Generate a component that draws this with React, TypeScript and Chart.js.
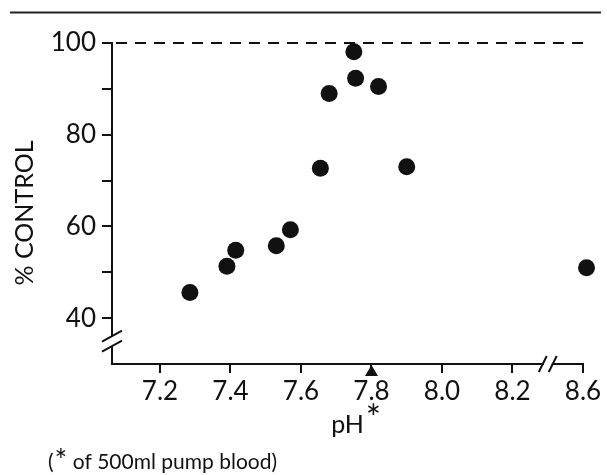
import React, { useEffect, useRef } from 'react';
import { Chart, registerables, LinearScale } from 'chart.js';

// ---- data ----
const PH_VALUES = [7.285, 7.39, 7.415, 7.53, 7.57, 7.655, 7.68, 7.75, 7.755, 7.82, 7.9, 8.61];
const PCT_CONTROL = [45.6, 51.3, 54.8, 55.8, 59.3, 72.7, 89.0, 98.1, 92.3, 90.5, 73.0, 51.0];
const X_TICKS = [7.2, 7.4, 7.6, 7.8, 8.0, 8.2, 8.6];
const Y_TICKS = [40, 50, 60, 70, 80, 90, 100];
const Y_LABELED = [40, 60, 80, 100];
const MARKER_PH = [7.8];
const CONTROL_LEVEL = 100;
const X_BREAK = 8.3;
const X_GAP = 0.2;
const Y_BREAK = 35;
const X_TITLE = 'pH';
const MARK = '*';
const Y_TITLE = '% CONTROL';
const FOOTNOTE_OPEN = '(';
const FOOTNOTE = ' of 500ml pump blood)';

const FONT = 'Lato, "DejaVu Sans", sans-serif';
const INK = '#111';

class BrokenLinearScale extends LinearScale {
  static id = 'brokenLinear';
  static defaults = LinearScale.defaults;
  getPixelForValue(value: number) {
    const v = value > X_BREAK ? value - X_GAP : value;
    return super.getPixelForValue(v);
  }
}

Chart.register(...registerables, BrokenLinearScale as any);

const decorPlugin = {
  id: 'decor',
  beforeDatasetsDraw(chart: any) {
    const { ctx, chartArea, scales } = chart;
    const y = scales.y.getPixelForValue(CONTROL_LEVEL);
    ctx.save();
    ctx.strokeStyle = INK;
    ctx.lineWidth = 2;
    ctx.setLineDash([11, 8]);
    ctx.beginPath();
    ctx.moveTo(chartArea.left + 4, y);
    ctx.lineTo(chartArea.right, y);
    ctx.stroke();
    ctx.restore();
  },
  afterDraw(chart: any) {
    const { ctx, chartArea, scales } = chart;
    const xs = scales.x;
    const ys = scales.y;
    ctx.save();
    // top rule
    ctx.strokeStyle = '#222';
    ctx.lineWidth = 2;
    ctx.beginPath();
    ctx.moveTo(10, 12.5);
    ctx.lineTo(601, 12.5);
    ctx.stroke();

    // y-axis break
    const ax = chartArea.left;
    const by = ys.getPixelForValue(Y_BREAK);
    ctx.fillStyle = '#fff';
    ctx.fillRect(ax - 3, by - 5, 6, 10);
    ctx.strokeStyle = INK;
    ctx.lineWidth = 2;
    ctx.beginPath();
    ctx.moveTo(ax - 10, by + 0.5);
    ctx.lineTo(ax + 10, by - 10.5);
    ctx.moveTo(ax - 10, by + 10.5);
    ctx.lineTo(ax + 10, by - 0.5);
    ctx.stroke();

    // x-axis break
    const bx = xs.getPixelForValue(X_BREAK);
    const ay = chartArea.bottom;
    ctx.fillStyle = '#fff';
    ctx.fillRect(bx - 4, ay - 3, 8, 6);
    ctx.beginPath();
    ctx.moveTo(bx - 9, ay + 8);
    ctx.lineTo(bx - 1, ay - 8);
    ctx.moveTo(bx + 1, ay + 8);
    ctx.lineTo(bx + 9, ay - 8);
    ctx.stroke();

    // triangle marker(s) under the axis
    ctx.fillStyle = INK;
    MARKER_PH.forEach((v) => {
      const mx = xs.getPixelForValue(v);
      ctx.beginPath();
      ctx.moveTo(mx, ay + 1);
      ctx.lineTo(mx + 6.5, ay + 12);
      ctx.lineTo(mx - 6.5, ay + 12);
      ctx.closePath();
      ctx.fill();
    });

    ctx.fillStyle = INK;
    ctx.textBaseline = 'alphabetic';

    // y title
    ctx.save();
    ctx.translate(33, 213);
    ctx.rotate(-Math.PI / 2);
    ctx.font = `25px ${FONT}`;
    ctx.textAlign = 'center';
    ctx.fillText(Y_TITLE, 0, 0);
    ctx.restore();

    // x title with raised mark
    const cx = (chartArea.left + chartArea.right) / 2;
    ctx.font = `25px ${FONT}`;
    ctx.textAlign = 'center';
    ctx.fillText(X_TITLE, cx, 433);
    const w = ctx.measureText(X_TITLE).width;
    ctx.font = `36px ${FONT}`;
    ctx.textAlign = 'left';
    ctx.fillText(MARK, cx + w / 2 + 2, 431);

    // footnote
    let fx = 48;
    ctx.font = `21px ${FONT}`;
    ctx.fillText(FOOTNOTE_OPEN, fx, 469);
    fx += ctx.measureText(FOOTNOTE_OPEN).width + 1;
    ctx.font = `30px ${FONT}`;
    ctx.fillText(MARK, fx, 471);
    fx += ctx.measureText(MARK).width;
    ctx.font = `21px ${FONT}`;
    ctx.fillText(FOOTNOTE, fx, 469);
    ctx.restore();
  },
};

export default function App() {
  const ref = useRef<HTMLCanvasElement>(null);
  useEffect(() => {
    if (!ref.current) return;
    const tickFont = { family: FONT, size: 26 };
    const chart = new Chart(ref.current, {
      type: 'scatter',
      data: {
        datasets: [
          {
            data: PH_VALUES.map((x, i) => ({ x, y: PCT_CONTROL[i] })),
            backgroundColor: INK,
            borderWidth: 0,
            pointRadius: 8.5,
            pointHoverRadius: 8.5,
            clip: false as any,
          },
        ],
      },
      options: {
        animation: false,
        responsive: true,
        maintainAspectRatio: false,
        events: [],
        layout: { padding: { left: 0, right: 24, top: 43, bottom: 31 } },
        plugins: { legend: { display: false }, tooltip: { enabled: false } },
        scales: {
          x: {
            type: 'brokenLinear' as any,
            min: 7.064,
            max: 8.4,
            afterBuildTicks: (s: any) => {
              s.ticks = X_TICKS.map((value) => ({ value }));
            },
            afterFit: (s: any) => {
              s.height = 80;
            },
            grid: { drawOnChartArea: false, tickLength: 9, color: INK, lineWidth: 2 },
            border: { display: true, color: INK, width: 2 },
            ticks: {
              color: INK,
              font: tickFont,
              padding: 3,
              maxRotation: 0,
              autoSkip: false,
              callback: (v: any) => Number(v).toFixed(1),
            },
            title: { display: false },
          },
          y: {
            min: 30,
            max: 100,
            afterBuildTicks: (s: any) => {
              s.ticks = Y_TICKS.map((value) => ({ value }));
            },
            afterFit: (s: any) => {
              s.width = 112;
            },
            grid: { drawOnChartArea: false, tickLength: 10, color: INK, lineWidth: 2 },
            border: { display: true, color: INK, width: 2 },
            ticks: {
              color: INK,
              font: tickFont,
              padding: 6,
              autoSkip: false,
              callback: (v: any) => (Y_LABELED.includes(Number(v)) ? String(v) : ''),
            },
            title: { display: false },
          },
        },
      },
      plugins: [decorPlugin],
    });
    return () => chart.destroy();
  }, []);
  return (
    <div style={{ position: 'fixed', left: 0, top: 0, width: 607, height: 475, background: '#fff' }}>
      <canvas ref={ref} />
    </div>
  );
}
